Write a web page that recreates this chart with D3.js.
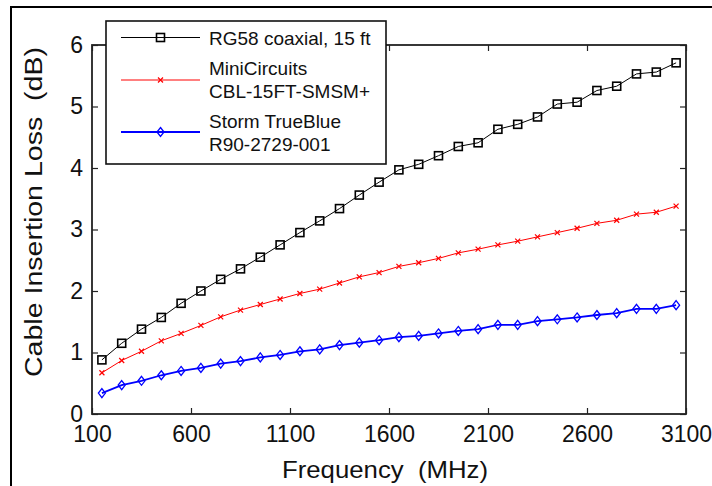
<!DOCTYPE html>
<html><head><meta charset="utf-8">
<script src="https://cdn.jsdelivr.net/npm/d3@7"></script>
<style>
html,body{margin:0;padding:0;background:#fff;}
svg{display:block;}
text{font-family:Arial,"Liberation Sans",sans-serif;fill:#111;}
</style></head>
<body>
<script>
const freqs = [150,250,350,450,550,650,750,850,950,1050,1150,1250,1350,1450,1550,1650,1750,1850,1950,2050,2150,2250,2350,2450,2550,2650,2750,2850,2950,3050];
const rg58 = [0.88,1.15,1.38,1.57,1.80,2.00,2.19,2.36,2.55,2.75,2.95,3.14,3.34,3.56,3.77,3.97,4.06,4.20,4.35,4.41,4.63,4.71,4.83,5.04,5.07,5.26,5.33,5.53,5.56,5.71];
const miniCircuits = [0.67,0.87,1.02,1.19,1.31,1.44,1.58,1.69,1.78,1.87,1.96,2.03,2.13,2.23,2.30,2.40,2.46,2.53,2.62,2.68,2.75,2.81,2.88,2.95,3.02,3.10,3.15,3.25,3.28,3.38];
const stormTrueBlue = [0.34,0.47,0.54,0.63,0.70,0.75,0.82,0.86,0.92,0.96,1.02,1.05,1.12,1.16,1.20,1.25,1.27,1.31,1.35,1.38,1.45,1.45,1.51,1.54,1.57,1.61,1.64,1.71,1.71,1.77];
const xTicks = [100,600,1100,1600,2100,2600,3100];
const yTicks = [0,1,2,3,4,5,6];
const seriesNames = [["RG58 coaxial, 15 ft"],["MiniCircuits","CBL-15FT-SMSM+"],["Storm TrueBlue","R90-2729-001"]];
const xLabel = "Frequency  (MHz)";
const yLabel = "Cable Insertion Loss  (dB)";

const W = 712, H = 486;
const L = 92, R = 686, T = 45, B = 414;
const svg = d3.select("body").append("svg").attr("width", W).attr("height", H);

// outer frame
svg.append("path").attr("d", `M11,${H} L11,7 L${W},7`).attr("fill","none").attr("stroke","#000").attr("stroke-width",2);

const x = d3.scaleLinear().domain([100,3100]).range([L,R]);
const y = d3.scaleLinear().domain([0,6]).range([B,T]);

const fs = "23px";
const gx = svg.append("g").attr("transform",`translate(0,${B})`)
  .call(d3.axisBottom(x).tickValues(xTicks).tickFormat(d3.format("d")).tickSize(-6).tickPadding(12));
gx.selectAll("text").style("font-size",fs).attr("fill","#111");
const gxt = svg.append("g").attr("transform",`translate(0,${T})`)
  .call(d3.axisTop(x).tickValues(xTicks).tickFormat("").tickSize(-6));
const gy = svg.append("g").attr("transform",`translate(${L},0)`)
  .call(d3.axisLeft(y).tickValues(yTicks).tickFormat(d3.format("d")).tickSize(-6).tickPadding(9));
gy.selectAll("text").style("font-size",fs).attr("fill","#111");
const gyr = svg.append("g").attr("transform",`translate(${R},0)`)
  .call(d3.axisRight(y).tickValues(yTicks).tickFormat("").tickSize(-6));
[gx,gxt,gy,gyr].forEach(g=>{g.select(".domain").remove(); g.selectAll("line").attr("stroke","#222").attr("stroke-width",1.2);});

svg.append("rect").attr("x",L).attr("y",T).attr("width",R-L).attr("height",B-T)
  .attr("fill","none").attr("stroke","#222").attr("stroke-width",1.8);

// series
const series = [
  {vals: rg58, color:"#000", w:1, marker:"square"},
  {vals: miniCircuits, color:"#ff0000", w:1, marker:"x"},
  {vals: stormTrueBlue, color:"#0000ff", w:1.8, marker:"diamond"}
];
const line = d3.line().x((d,i)=>x(freqs[i])).y(d=>y(d));

function drawMarker(g, type, cx, cy, color){
  if(type==="square"){
    g.append("rect").attr("x",cx-4).attr("y",cy-4).attr("width",8).attr("height",8)
      .attr("fill","none").attr("stroke",color).attr("stroke-width",1.6);
  } else if(type==="x"){
    g.append("path").attr("d",`M${cx-2.5},${cy-2.5}L${cx+2.5},${cy+2.5}M${cx-2.5},${cy+2.5}L${cx+2.5},${cy-2.5}`)
      .attr("stroke",color).attr("stroke-width",1.2);
  } else {
    g.append("path").attr("d",`M${cx},${cy-4.5}L${cx+3.5},${cy}L${cx},${cy+4.5}L${cx-3.5},${cy}Z`)
      .attr("fill","none").attr("stroke",color).attr("stroke-width",1.3);
  }
}

series.forEach(s=>{
  svg.append("path").datum(s.vals).attr("d",line).attr("fill","none").attr("stroke",s.color).attr("stroke-width",s.w);
  const g = svg.append("g");
  s.vals.forEach((v,i)=>drawMarker(g, s.marker, x(freqs[i]), y(v), s.color));
});

// axis labels
svg.append("text").attr("x",(L+R)/2-4).attr("y",478).attr("text-anchor","middle")
  .attr("xml:space","preserve").style("white-space","pre").style("font-size","24px")
  .attr("textLength",206).attr("lengthAdjust","spacingAndGlyphs").text(xLabel);
svg.append("text").attr("transform","translate(42,212) rotate(-90)").attr("text-anchor","middle")
  .attr("xml:space","preserve").style("white-space","pre").style("font-size","23px")
  .attr("textLength",330).attr("lengthAdjust","spacingAndGlyphs").text(yLabel);

// legend
const lg = svg.append("g");
lg.append("rect").attr("x",106).attr("y",21).attr("width",280).attr("height",143)
  .attr("fill","#fff").attr("stroke","#111").attr("stroke-width",1.6);
const legY = [37.5, 80, 132];
const textY = [[44.5],[75,97.5],[127.5,150.8]];
series.forEach((s,i)=>{
  lg.append("line").attr("x1",121).attr("x2",200).attr("y1",legY[i]).attr("y2",legY[i])
    .attr("stroke",s.color).attr("stroke-width",s.w);
  drawMarker(lg, s.marker, 160.5, legY[i], s.color);
  seriesNames[i].forEach((t,j)=>{
    lg.append("text").attr("x",209).attr("y",textY[i][j]).style("font-size","19px").text(t);
  });
});
</script>
</body></html>
